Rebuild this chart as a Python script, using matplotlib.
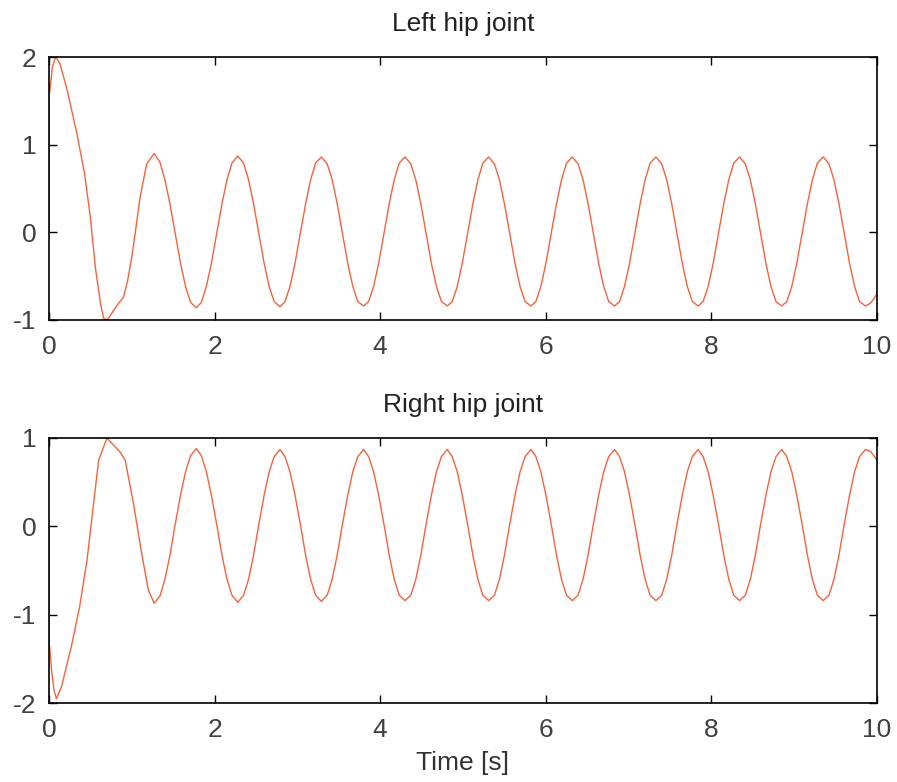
import numpy as np
import matplotlib.pyplot as plt

plt.rcParams['font.family'] = ['Liberation Sans', 'DejaVu Sans']
plt.rcParams['axes.unicode_minus'] = False

# ---- data ----
# start-up transient of the left hip joint
top_t_start = [0.0, 0.0, 0.01, 0.04, 0.08, 0.13, 0.21, 0.33, 0.43, 0.50, 0.56, 0.62,
               0.66, 0.70, 0.74, 0.78, 0.84, 0.90, 0.95, 1.00, 1.05, 1.10, 1.18]
top_y_start = [0.0, 1.70, 1.60, 1.88, 2.00, 1.93, 1.66, 1.16, 0.67, 0.17, -0.40, -0.80,
               -0.98, -1.00, -0.95, -0.89, -0.81, -0.74, -0.55, -0.28, 0.05, 0.40, 0.78]

# start-up transient of the right hip joint
bot_t_start = [0.0, 0.0, 0.01, 0.03, 0.06, 0.09, 0.15, 0.27, 0.37, 0.46, 0.52, 0.60,
               0.70, 0.80, 0.86, 0.92, 1.02, 1.12, 1.20]
bot_y_start = [0.0, -1.30, -1.38, -1.62, -1.85, -1.95, -1.82, -1.36, -0.91, -0.38, 0.11, 0.75,
               1.00, 0.90, 0.84, 0.75, 0.26, -0.31, -0.72]

# steady walking part (shared time stamps)
cycle_t = [
    1.27, 1.34, 1.40, 1.46, 1.52, 1.59, 1.65, 1.71, 1.78, 1.84, 1.90, 1.96, 2.03, 2.09, 2.15, 2.21,
    2.28, 2.35, 2.41, 2.47, 2.53, 2.60, 2.66, 2.72, 2.79, 2.85, 2.91, 2.97, 3.04, 3.10, 3.16, 3.22,
    3.29, 3.36, 3.42, 3.48, 3.54, 3.61, 3.67, 3.73, 3.80, 3.86, 3.92, 3.98, 4.05, 4.11, 4.17, 4.23,
    4.30, 4.37, 4.43, 4.49, 4.55, 4.62, 4.68, 4.74, 4.81, 4.87, 4.93, 4.99, 5.06, 5.12, 5.18, 5.24,
    5.31, 5.38, 5.44, 5.50, 5.56, 5.63, 5.69, 5.75, 5.82, 5.88, 5.94, 6.00, 6.07, 6.13, 6.19, 6.25,
    6.32, 6.39, 6.45, 6.51, 6.57, 6.64, 6.70, 6.76, 6.83, 6.89, 6.95, 7.01, 7.08, 7.14, 7.20, 7.26,
    7.33, 7.40, 7.46, 7.52, 7.58, 7.65, 7.71, 7.77, 7.84, 7.90, 7.96, 8.02, 8.09, 8.15, 8.21, 8.27,
    8.34, 8.41, 8.47, 8.53, 8.59, 8.66, 8.72, 8.78, 8.85, 8.91, 8.97, 9.03, 9.10, 9.16, 9.22, 9.28,
    9.35, 9.42, 9.48, 9.54, 9.60, 9.67, 9.73, 9.79, 9.86, 9.92, 9.96, 10.0]

top_y_cycle = [
    0.90, 0.80, 0.60, 0.33, 0.01, -0.36, -0.62, -0.80, -0.86, -0.80, -0.62, -0.36, 0.01, 0.33, 0.60, 0.79,
    0.87, 0.79, 0.60, 0.33, 0.01, -0.36, -0.62, -0.79, -0.85, -0.79, -0.62, -0.36, 0.01, 0.33, 0.60, 0.79,
    0.86, 0.78, 0.60, 0.33, 0.01, -0.36, -0.62, -0.79, -0.84, -0.79, -0.62, -0.36, 0.01, 0.33, 0.60, 0.79,
    0.86, 0.78, 0.60, 0.33, 0.01, -0.36, -0.62, -0.79, -0.84, -0.79, -0.62, -0.36, 0.01, 0.33, 0.60, 0.79,
    0.86, 0.78, 0.60, 0.33, 0.01, -0.36, -0.62, -0.79, -0.84, -0.79, -0.62, -0.36, 0.01, 0.33, 0.60, 0.79,
    0.86, 0.78, 0.60, 0.33, 0.01, -0.36, -0.62, -0.79, -0.84, -0.79, -0.62, -0.36, 0.01, 0.33, 0.60, 0.79,
    0.86, 0.78, 0.60, 0.33, 0.01, -0.36, -0.62, -0.79, -0.84, -0.79, -0.62, -0.36, 0.01, 0.33, 0.60, 0.79,
    0.86, 0.78, 0.60, 0.33, 0.01, -0.36, -0.62, -0.79, -0.84, -0.79, -0.62, -0.36, 0.01, 0.33, 0.60, 0.79,
    0.86, 0.78, 0.60, 0.33, 0.01, -0.36, -0.62, -0.79, -0.84, -0.81, -0.76, -0.70]

bot_y_cycle = [
    -0.87, -0.79, -0.60, -0.33, 0.00, 0.36, 0.62, 0.80, 0.88, 0.80, 0.62, 0.36, 0.00, -0.33, -0.60, -0.78,
    -0.86, -0.78, -0.60, -0.33, 0.00, 0.36, 0.62, 0.79, 0.87, 0.79, 0.62, 0.36, 0.00, -0.33, -0.60, -0.78,
    -0.85, -0.78, -0.60, -0.33, 0.00, 0.36, 0.62, 0.79, 0.87, 0.79, 0.62, 0.36, 0.00, -0.33, -0.60, -0.78,
    -0.84, -0.78, -0.60, -0.33, 0.00, 0.36, 0.62, 0.79, 0.87, 0.79, 0.62, 0.36, 0.00, -0.33, -0.60, -0.78,
    -0.84, -0.78, -0.60, -0.33, 0.00, 0.36, 0.62, 0.79, 0.87, 0.79, 0.62, 0.36, 0.00, -0.33, -0.60, -0.78,
    -0.84, -0.78, -0.60, -0.33, 0.00, 0.36, 0.62, 0.79, 0.87, 0.79, 0.62, 0.36, 0.00, -0.33, -0.60, -0.78,
    -0.84, -0.78, -0.60, -0.33, 0.00, 0.36, 0.62, 0.79, 0.87, 0.79, 0.62, 0.36, 0.00, -0.33, -0.60, -0.78,
    -0.84, -0.78, -0.60, -0.33, 0.00, 0.36, 0.62, 0.79, 0.87, 0.79, 0.62, 0.36, 0.00, -0.33, -0.60, -0.78,
    -0.84, -0.78, -0.60, -0.33, 0.00, 0.36, 0.62, 0.79, 0.87, 0.85, 0.80, 0.75]

titles = ['Left hip joint', 'Right hip joint']
ylims = [(-1, 2), (-2, 1)]

t_top = np.array(top_t_start + cycle_t)
y_top = np.array(top_y_start + top_y_cycle)
t_bot = np.array(bot_t_start + cycle_t)
y_bot = np.array(bot_y_start + bot_y_cycle)

# ---- figure ----
fig = plt.figure(figsize=(8.97, 7.82), dpi=100)
ax1 = fig.add_axes([0.0546, 0.5908, 0.9231, 0.3363])
ax2 = fig.add_axes([0.0546, 0.1010, 0.9231, 0.3389])

for ax, t, y, title, yl in zip([ax1, ax2], [t_top, t_bot], [y_top, y_bot], titles, ylims):
    ax.plot(t, y, color='#f4633e', lw=1.0)
    ax.set_xlim(0, 10)
    ax.set_ylim(*yl)
    ax.set_xticks(range(0, 11, 2))
    ax.set_yticks(range(yl[0], yl[1] + 1))
    ax.tick_params(direction='in', top=True, right=True, length=6, width=1,
                   labelsize=19, labelcolor='#404040')
    ax.tick_params(axis='x', pad=11)
    ax.tick_params(axis='y', pad=9)
    for s in ax.spines.values():
        s.set_linewidth(1.2)
    ax.set_title(title, fontsize=19, color='#222222', pad=19)

ax2.set_xlabel('Time [s]', fontsize=19, color='#333333', labelpad=6)

fig.savefig('out.png', dpi=100)
